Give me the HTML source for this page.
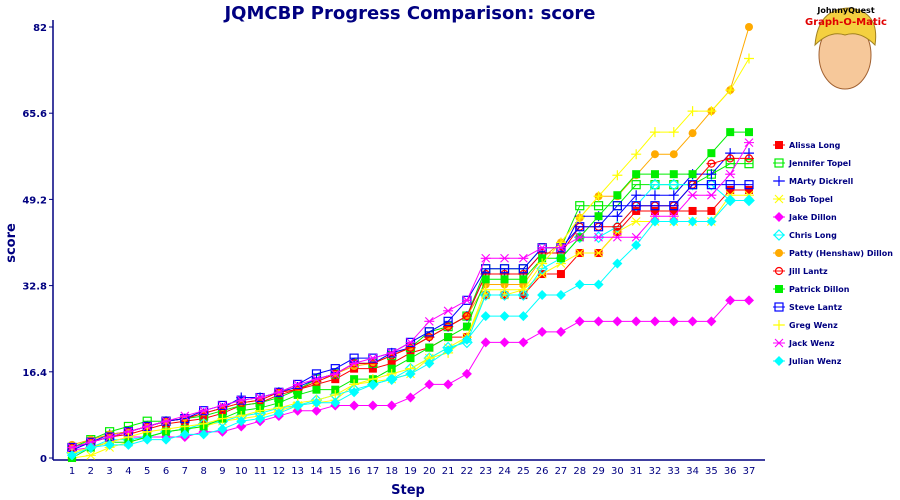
<!DOCTYPE html>
<html><head><meta charset="utf-8"><style>
body{margin:0;background:#fff;}
svg{display:block;font-family:"DejaVu Sans","Liberation Sans",sans-serif;}
</style></head><body>
<svg id="chart" width="900" height="500">
<text x="410" y="19" text-anchor="middle" font-size="18" font-weight="bold" fill="#000080">JQMCBP Progress Comparison: score</text>
<g>
<ellipse cx="845" cy="55" rx="26" ry="34" fill="#f6c89a" stroke="#a06030"/>
<path d="M815 45 Q818 8 850 8 Q880 12 875 45 Q860 30 845 35 Q830 30 815 45 Z" fill="#f4d040" stroke="#a08020"/>
<text x="846" y="13" text-anchor="middle" font-size="8" font-weight="bold" fill="#000">JohnnyQuest</text>
<text x="846" y="25" text-anchor="middle" font-size="10" font-weight="bold" fill="#e00000">Graph-O-Matic</text>
</g>
<text x="408" y="494" text-anchor="middle" font-size="13" font-weight="bold" fill="#000080">Step</text>
<text x="15" y="243" text-anchor="middle" font-size="13" font-weight="bold" fill="#000080" transform="rotate(-90 15 243)">score</text>
<g id="axes"></g><g id="series"></g><g id="legend"></g>
</svg>
<script>
const steps=[];for(let i=1;i<=37;i++)steps.push(i);
const yTicks=[0,16.4,32.8,49.2,65.6,82];
const names=["Alissa Long","Jennifer Topel","MArty Dickrell","Bob Topel","Jake Dillon","Chris Long","Patty (Henshaw) Dillon","Jill Lantz","Patrick Dillon","Steve Lantz","Greg Wenz","Jack Wenz","Julian Wenz"];
const colors=["#ff0000","#00ee00","#0000ff","#ffff00","#ff00ff","#00ffff","#ffaa00","#ff0000","#00ee00","#0000ff","#ffff00","#ff00ff","#00ffff"];
const markers=["fsq","hsq","plus","x","fdia","hdia","fcir","hcir","fsq","hsq","plus","x","fdia"];
const alissa=[2,3,4,4.5,5.5,6.5,7,7.5,8.5,10,10.5,12,13,14,15,17,17,18,20,21,23,23,31,31,31,35,35,39,39,43,47,47,47,47,47,51,51];
const jennifer=[2,3.5,5,6,7,7,7.5,8,9,10,10.5,11.5,13,15,16,18,18,19.5,21,24,25,27,36,36,36,40,40,48,48,48,52,52,52,52,54,56,56];
const marty=[1.5,3,4.5,5,6,7,7.5,8.5,9.5,11.5,11.5,12.5,13.5,15,16,18,18,20,21,23,25,27,35,35,35,39,39,46,46,46,50,50,50,54,54,58,58];
const bob=[0,0.5,2,3,4,5,5.5,6,7,7.5,8,9,10,10.5,11,14,14.5,15,16,19,21,23,31,31,32,35,37,39,39,43,45,45,45,45,45,50,50];
const jake=[1.5,2,3,4,4,4,4,5,5,6,7,8,9,9,10,10,10,10,11.5,14,14,16,22,22,22,24,24,26,26,26,26,26,26,26,26,30,30];
const chris=[1,2,3.5,3.5,4,5,5.5,6.5,7,8,8.5,9.5,10,11,12,13,14,15,17,19,21,22,31,31,31,36,38,42,42,44,48,52,52,52,52,49,49];
const patty=[2.5,3.5,4.5,5,6,7,7.5,8.5,9.5,10.5,11,12.5,13,14.5,16,17.5,18,19.5,21,23,25,27,33,33,33,38,41,45.7,49.8,49.8,53.8,57.8,57.8,61.8,66,70,82];
const jill=[2,3,4,5,6,7,7.5,8.5,9.5,10.5,11,12.5,13,14.5,16,18,18,19.5,21,23,25,27,35,35,35,39,39,44,44,44,48,48,48,52,56,57,57];
const patrick=[0,2,3,3,4,5,5.5,6,7.5,9,9.5,10.5,12,13,13,15,15,17,19,21,23,25,34,34,34,38,38,42,46,50,54,54,54,54,58,62,62];
const steve=[2,3,4,5,6,7,7.5,9,10,11,11.5,12.5,14,16,17,19,19,20,22,24,26,30,36,36,36,40,40,44,44,48,48,48,48,52,52,52,52];
const greg=[1,2,3,4,5,5.5,6,6.5,7.5,8,9,9.5,10.5,11,12,14,15,16,17,19,20,23,32,32,32,37,41,45.7,49.8,53.8,57.8,62,62,66,66,70,76];
const jack=[2,3,4,5,6,7,8,9,10,11,11.5,12.5,14,15,16,18,19,20,22,26,28,30,38,38,38,40,40,42,42,42,42,46,46,50,50,54,60];
const julian=[0.5,2,2.5,2.5,3.5,3.5,4.5,4.5,5.5,7,7.5,8.5,10,10.5,10.5,12.5,14,15,16,18,20.5,22.5,27,27,27,31,31,33,33,37,40.5,45,45,45,45,49,49];
const seriesData=[alissa,jennifer,marty,bob,jake,chris,patty,jill,patrick,steve,greg,jack,julian];
const NS="http://www.w3.org/2000/svg";
const X0=72,X1=749,Y0=458,Y1=27,YMAX=82;
const xs=s=>X0+(s-1)*(X1-X0)/36;
const ys=v=>Y0-v*(Y0-Y1)/YMAX;
function mk(tag,attrs,parent){const e=document.createElementNS(NS,tag);for(const k in attrs)e.setAttribute(k,attrs[k]);parent.appendChild(e);return e;}
const axes=document.getElementById('axes');
const yl=mk('line',{x1:53,y1:20,x2:53,y2:460,stroke:'#000080','stroke-width':1.5},axes);


const xl=mk('line',{x1:53,y1:460,x2:765,y2:460,stroke:'#000080','stroke-width':1.5},axes);


yTicks.forEach(t=>{
 mk('line',{x1:49,y1:ys(t),x2:53,y2:ys(t),stroke:'#000080'},axes);
 const tx=mk('text',{x:47,y:ys(t)+4,'text-anchor':'end','font-size':10,'font-weight':'bold',fill:'#000080'},axes);
 tx.textContent=t;
 
 
});
steps.forEach(s=>{
 const tx=mk('text',{x:xs(s),y:474,'text-anchor':'middle','font-size':10,fill:'#000080'},axes);
 tx.textContent=s;
 
 
});
function marker(type,x,y,c,g){
 const r=4;
 if(type==='fsq')mk('rect',{x:x-r,y:y-r,width:2*r,height:2*r,fill:c},g);
 else if(type==='hsq'){mk('rect',{x:x-r,y:y-r,width:2*r,height:2*r,fill:'none',stroke:c,'stroke-width':1.2},g);mk('line',{x1:x-r,y1:y,x2:x+r,y2:y,stroke:c},g);}
 else if(type==='plus'){mk('path',{d:`M${x-r-1} ${y}H${x+r+1}M${x} ${y-r-1}V${y+r+1}`,stroke:c,'stroke-width':1.2},g);}
 else if(type==='x'){mk('path',{d:`M${x-r} ${y-r}L${x+r} ${y+r}M${x-r} ${y+r}L${x+r} ${y-r}M${x-r-1} ${y}H${x+r+1}`,stroke:c,'stroke-width':1.1},g);}
 else if(type==='fdia')mk('path',{d:`M${x} ${y-r-1}L${x+r+1} ${y}L${x} ${y+r+1}L${x-r-1} ${y}Z`,fill:c},g);
 else if(type==='hdia'){mk('path',{d:`M${x} ${y-r-1}L${x+r+1} ${y}L${x} ${y+r+1}L${x-r-1} ${y}Z`,fill:'none',stroke:c,'stroke-width':1.2},g);mk('line',{x1:x-r,y1:y,x2:x+r,y2:y,stroke:c},g);}
 else if(type==='fcir')mk('circle',{cx:x,cy:y,r:r,fill:c},g);
 else if(type==='hcir'){mk('circle',{cx:x,cy:y,r:r-0.5,fill:'none',stroke:c,'stroke-width':1.2},g);mk('line',{x1:x-r-1,y1:y,x2:x+r+1,y2:y,stroke:c},g);}
}
const sg=document.getElementById('series');
seriesData.forEach((d,i)=>{
 const g=mk('g',{},sg);
 
 
 mk('polyline',{points:d.map((v,j)=>xs(steps[j])+','+ys(v)).join(' '),fill:'none',stroke:colors[i],'stroke-width':1},g);
 d.forEach((v,j)=>marker(markers[i],xs(steps[j]),ys(v),colors[i],g));
});
const lg=document.getElementById('legend');
names.forEach((n,i)=>{
 const y=145+i*18;
 const g=mk('g',{},lg);
 
 
 mk('line',{x1:773,y1:y,x2:785,y2:y,stroke:colors[i]},g);
 marker(markers[i],779,y,colors[i],g);
 const t=mk('text',{x:789,y:y+3,'font-size':8,'font-weight':'bold',fill:'#000080'},g);
 t.textContent=n;
});
</script>
</body></html>
